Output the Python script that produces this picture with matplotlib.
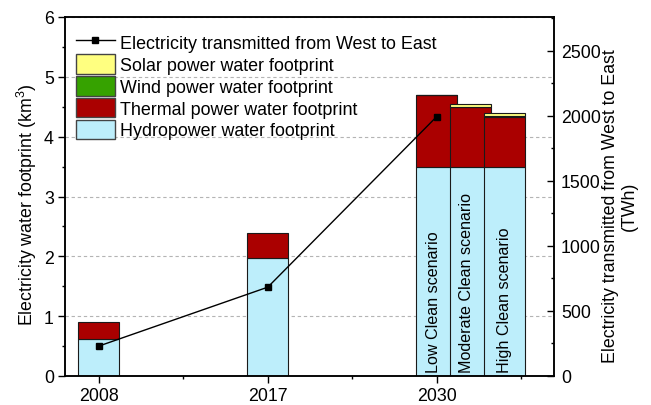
import matplotlib
matplotlib.use("Agg")
import matplotlib.pyplot as plt
from matplotlib.lines import Line2D
from matplotlib.patches import Patch
from matplotlib.ticker import MultipleLocator, FixedLocator

plt.rcParams["font.family"] = ["Liberation Sans", "DejaVu Sans"]
plt.rcParams["mathtext.fontset"] = "custom"
plt.rcParams["mathtext.rm"] = "Liberation Sans"
plt.rcParams["mathtext.it"] = "Liberation Sans:italic"

# Year groups on the x axis
years = ["2008", "2017", "2030"]

# Individual stacked bars (the 2030 group holds three scenarios)
bar_year = ["2008", "2017", "2030", "2030", "2030"]
scenarios = ["", "", "Low Clean scenario", "Moderate Clean scenario", "High Clean scenario"]

# Water footprint components (km^3)
hydro = [0.62, 1.97, 3.50, 3.50, 3.50]
thermal = [0.28, 0.42, 1.19, 0.995, 0.835]
wind = [0.0, 0.0, 0.005, 0.005, 0.005]
solar = [0.0, 0.0, 0.005, 0.05, 0.06]

# Electricity transmitted from West to East (TWh)
transmitted = [230, 683, 1995]

c_hydro = "#BDEEFB"
c_thermal = "#AA0000"
c_wind = "#36A200"
c_solar = "#FFFF80"
edge = "#1a1a1a"

fig = plt.figure(figsize=(6.51, 4.06), dpi=100)
ax = fig.add_axes([65 / 651, 29 / 406, 489 / 651, 359 / 406])
ax2 = ax.twinx()

bar_w = 0.243
scen_step = 0.2
year_pos = {y: i + 1 for i, y in enumerate(years)}

seen = {}
for i, yr in enumerate(bar_year):
    k = seen.get(yr, 0)
    seen[yr] = k + 1
    x = year_pos[yr] + k * scen_step
    z = 2 + i * 0.1
    bottom = 0.0
    for vals, col in ((hydro, c_hydro), (thermal, c_thermal), (wind, c_wind), (solar, c_solar)):
        v = vals[i]
        if v > 0:
            ax.bar(x, v, bar_w, bottom=bottom, color=col, edgecolor=edge,
                   linewidth=0.8, zorder=z)
        bottom += v
    if scenarios[i]:
        label_x = x - (bar_w - scen_step) / 2 if k < 2 else x
        ax.text(label_x, 0.07, scenarios[i], rotation=90, ha="center", va="bottom",
                fontsize=11.6, zorder=10)

ax.set_xlim(0.8, 0.8 + 489 / 169)
ax.set_ylim(0, 6)
ax.xaxis.set_major_locator(FixedLocator([year_pos[y] for y in years]))
ax.set_xticklabels(years)
ax.xaxis.set_minor_locator(FixedLocator([1.5, 2.5, 3.5]))
ax.yaxis.set_major_locator(MultipleLocator(1))
ax.yaxis.set_minor_locator(MultipleLocator(0.5))
ax.tick_params(axis="both", which="major", direction="out", length=5, width=1,
               labelsize=12.8, pad=3)
ax.tick_params(axis="both", which="minor", direction="out", length=2.5, width=1)
ax.grid(axis="y", which="major", linestyle=(0, (3, 2.5)), color="#b4b4b4",
        linewidth=0.8, zorder=0)
ax.set_axisbelow(True)
ax.set_ylabel("Electricity water footprint (km$^3$)", fontsize=12.8, va="center")
ax.yaxis.set_label_coords(-0.077, 0.479)

ax2.plot([year_pos[y] for y in years], transmitted, color="black", linewidth=1,
         marker="s", markersize=4, zorder=5)
ax2.set_ylim(0, 2760)
ax2.yaxis.set_major_locator(MultipleLocator(500))
ax2.yaxis.set_minor_locator(MultipleLocator(250))
ax2.tick_params(axis="y", which="major", direction="in", length=5, width=1,
                labelsize=12.8, pad=5)
ax2.tick_params(axis="y", which="minor", direction="in", length=2.5, width=1)
ax2.set_ylabel("Electricity transmitted from West to East\n(TWh)", fontsize=12.8,
               va="center", rotation=90, linespacing=1.1)
ax2.yaxis.set_label_coords(1.135, 0.475)

for a in (ax, ax2):
    for s in a.spines.values():
        s.set_linewidth(1.1)

handles = [
    Line2D([], [], color="black", linewidth=1, marker="s", markersize=4),
    Patch(facecolor=c_solar, edgecolor="#444444", linewidth=1),
    Patch(facecolor=c_wind, edgecolor="#444444", linewidth=1),
    Patch(facecolor=c_thermal, edgecolor="#444444", linewidth=1),
    Patch(facecolor=c_hydro, edgecolor="#444444", linewidth=1),
]
labels = [
    "Electricity transmitted from West to East",
    "Solar power water footprint",
    "Wind power water footprint",
    "Thermal power water footprint",
    "Hydropower water footprint",
]
ax2.legend(handles, labels, loc="upper left", bbox_to_anchor=(0.022, 0.957),
           frameon=False, fontsize=12.9, borderpad=0, borderaxespad=0,
           handlelength=2.18, handleheight=1.31, labelspacing=0.11,
           handletextpad=0.3)

fig.savefig("out.png", dpi=100)
